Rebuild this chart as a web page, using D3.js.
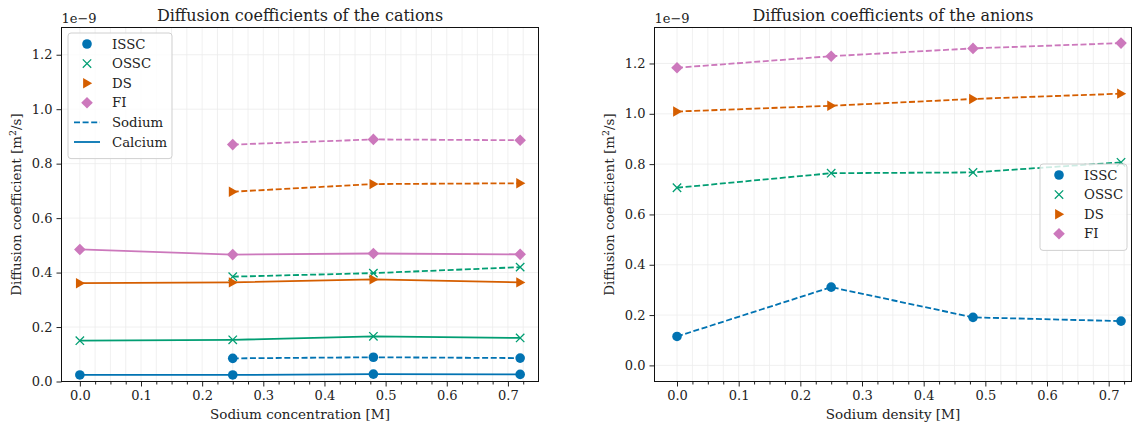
<!DOCTYPE html>
<html>
<head>
<meta charset="utf-8">
<script src="https://cdn.jsdelivr.net/npm/d3@7"></script>
<style>
  html, body { margin: 0; padding: 0; background: #fff; }
  svg { display: block; }
  text { font-family: "DejaVu Serif", serif; fill: #222; }
</style>
</head>
<body>
<svg id="chart" width="1135" height="426"></svg>
<script>
// Sodium concentrations at which the runs were performed [M]
const concentrations = [0, 0.25, 0.48, 0.72];
const sodiumConcentrations = [0.25, 0.48, 0.72];

// Cations, calcium (values in units of 1e-9 m^2/s)
const calciumISSC = [0.024, 0.024, 0.027, 0.026];
const calciumOSSC = [0.150, 0.153, 0.166, 0.160];
const calciumDS   = [0.361, 0.364, 0.375, 0.364];
const calciumFI   = [0.485, 0.466, 0.470, 0.467];

// Cations, sodium
const sodiumISSC = [0.085, 0.089, 0.086];
const sodiumOSSC = [0.385, 0.398, 0.420];
const sodiumDS   = [0.697, 0.725, 0.728];
const sodiumFI   = [0.870, 0.889, 0.886];

// Anions
const anionISSC = [0.115, 0.311, 0.191, 0.176];
const anionOSSC = [0.706, 0.764, 0.767, 0.807];
const anionDS   = [1.009, 1.032, 1.059, 1.080];
const anionFI   = [1.183, 1.229, 1.260, 1.281];

const methods = ["ISSC", "OSSC", "DS", "FI"];
const xTicks = [0, 0.1, 0.2, 0.3, 0.4, 0.5, 0.6, 0.7];
const yTicks = [0, 0.2, 0.4, 0.6, 0.8, 1.0, 1.2];

const colors = { ISSC: "#0173b2", OSSC: "#029e73", DS: "#d55e00", FI: "#cc78bc" };

const svg = d3.select("#chart");

// Marker glyphs in the style of matplotlib's o, x, > and D
function drawMarker(g, method, x, y) {
  const c = colors[method];
  if (method === "ISSC") {
    g.append("circle").attr("cx", x).attr("cy", y).attr("r", 4.8).attr("fill", c);
  } else if (method === "OSSC") {
    const s = 4.2;
    g.append("path")
      .attr("d", `M${x - s},${y - s}L${x + s},${y + s}M${x - s},${y + s}L${x + s},${y - s}`)
      .attr("stroke", c).attr("stroke-width", 1.3).attr("fill", "none");
  } else if (method === "DS") {
    const s = 5.2;
    g.append("path")
      .attr("d", `M${x + s},${y}L${x - s * 0.75},${y - s}L${x - s * 0.75},${y + s}Z`)
      .attr("fill", c);
  } else {
    const s = 5.8;
    g.append("path")
      .attr("d", `M${x},${y - s}L${x + s},${y}L${x},${y + s}L${x - s},${y}Z`)
      .attr("fill", c);
  }
}

function panel(opts) {
  const { left, right, top, bottom, xDomain, yDomain, title, xLabel, series } = opts;
  const x = d3.scaleLinear().domain(xDomain).range([left, right]);
  const y = d3.scaleLinear().domain(yDomain).range([bottom, top]);
  const g = svg.append("g");

  // grid: minor vertical lines every 0.025, horizontal lines at major ticks
  const grid = g.append("g");
  d3.range(0, 0.751, 0.025).filter(v => x(v) < right).forEach(v => {
    grid.append("line").attr("x1", x(v)).attr("x2", x(v)).attr("y1", top).attr("y2", bottom)
      .attr("stroke", "#ececec").attr("stroke-width", 0.8);
  });
  yTicks.forEach(v => {
    grid.append("line").attr("x1", left).attr("x2", right).attr("y1", y(v)).attr("y2", y(v))
      .attr("stroke", "#ececec").attr("stroke-width", 0.8);
  });

  // series lines and markers
  const clip = "clip" + Math.round(left);
  svg.append("clipPath").attr("id", clip).append("rect")
    .attr("x", left).attr("y", top).attr("width", right - left).attr("height", bottom - top);
  const data = g.append("g").attr("clip-path", `url(#${clip})`);
  series.forEach(s => {
    const line = d3.line().x(d => x(d[0])).y(d => y(d[1]));
    const pts = s.xs.map((xv, i) => [xv, s.values[i]]);
    data.append("path").datum(pts).attr("d", line)
      .attr("fill", "none").attr("stroke", colors[s.method]).attr("stroke-width", 1.8)
      .attr("stroke-dasharray", s.dashed ? "6,2.6" : null);
    pts.forEach(p => drawMarker(data, s.method, x(p[0]), y(p[1])));
  });

  // axes
  const minorTicks = d3.range(0, 0.751, 0.025)
    .filter(v => Math.abs(v * 10 - Math.round(v * 10)) > 1e-6 && x(v) < right);
  const xAxis = g.append("g").attr("transform", `translate(0,${bottom})`)
    .call(d3.axisBottom(x).tickValues(xTicks).tickFormat(d3.format(".1f")).tickSize(5).tickPadding(4));
  g.append("g").attr("transform", `translate(0,${bottom})`)
    .call(d3.axisBottom(x).tickValues(minorTicks).tickFormat("").tickSize(3))
    .call(a => a.select(".domain").remove());
  const yAxis = g.append("g").attr("transform", `translate(${left},0)`)
    .call(d3.axisLeft(y).tickValues(yTicks).tickFormat(d3.format(".1f")).tickSize(5).tickPadding(4));
  [xAxis, yAxis].forEach(a => {
    a.selectAll("text").attr("font-size", 13).attr("font-family", "DejaVu Serif").attr("fill", "#222");
    a.select(".domain").remove();
  });
  g.selectAll(".tick line").attr("stroke", "#222");

  // frame
  g.append("rect").attr("x", left).attr("y", top).attr("width", right - left).attr("height", bottom - top)
    .attr("fill", "none").attr("stroke", "#111").attr("stroke-width", 1);

  // texts
  g.append("text").attr("x", (left + right) / 2).attr("y", top - 7).attr("text-anchor", "middle")
    .attr("font-size", 16).text(title);
  g.append("text").attr("x", left).attr("y", top - 5).attr("font-size", 13).text("1e\u22129");
  g.append("text").attr("x", (left + right) / 2).attr("y", bottom + 37).attr("text-anchor", "middle")
    .attr("font-size", 13.5).text(xLabel);
  const yl = g.append("text")
    .attr("transform", `translate(${left - 41},${(top + bottom) / 2}) rotate(-90)`)
    .attr("text-anchor", "middle").attr("font-size", 13.5);
  yl.append("tspan").text("Diffusion coefficient [m");
  yl.append("tspan").attr("dy", -5).attr("font-size", 9.5).text("2");
  yl.append("tspan").attr("dy", 5).text("/s]");

  return { x, y, g };
}

function legend(g, lx, ly, w, entries) {
  const rowH = 19.6;
  const h = entries.length * rowH + 8;
  g.append("rect").attr("x", lx).attr("y", ly).attr("width", w).attr("height", h).attr("rx", 3)
    .attr("fill", "rgba(255,255,255,0.8)").attr("stroke", "#d0d0d0").attr("stroke-width", 1);
  entries.forEach((e, i) => {
    const cy = ly + 11 + i * rowH;
    const mx = lx + 19;
    if (e.type === "marker") {
      drawMarker(g, e.method, mx, cy);
    } else {
      g.append("line").attr("x1", mx - 13).attr("x2", mx + 13).attr("y1", cy).attr("y2", cy)
        .attr("stroke", colors.ISSC).attr("stroke-width", 1.8)
        .attr("stroke-dasharray", e.dashed ? "6,2.6" : null);
    }
    g.append("text").attr("x", lx + 44).attr("y", cy + 4.6).attr("font-size", 13.3).text(e.label);
  });
}

// Cations panel
const cationSeries = [];
const calciumSets = [calciumISSC, calciumOSSC, calciumDS, calciumFI];
const sodiumSets = [sodiumISSC, sodiumOSSC, sodiumDS, sodiumFI];
methods.forEach((m, i) => {
  cationSeries.push({ method: m, xs: sodiumConcentrations, values: sodiumSets[i], dashed: true });
  cationSeries.push({ method: m, xs: concentrations, values: calciumSets[i], dashed: false });
});
const p1 = panel({
  left: 61.5, right: 538.5, top: 27.5, bottom: 381.5, xDomain: [-0.03, 0.75], yDomain: [0, 1.3],
  title: "Diffusion coefficients of the cations", xLabel: "Sodium concentration [M]",
  series: cationSeries
});
legend(p1.g, 68, 33, 104, [
  ...methods.map(m => ({ type: "marker", method: m, label: m })),
  { type: "line", dashed: true, label: "Sodium" },
  { type: "line", dashed: false, label: "Calcium" }
]);

// Anions panel
const anionSets = [anionISSC, anionOSSC, anionDS, anionFI];
const p2 = panel({
  left: 654.5, right: 1131.5, top: 27.5, bottom: 381.5, xDomain: [-0.0365, 0.737], yDomain: [-0.064, 1.343],
  title: "Diffusion coefficients of the anions", xLabel: "Sodium density [M]",
  series: methods.map((m, i) => ({ method: m, xs: concentrations, values: anionSets[i], dashed: true }))
});
legend(p2.g, 1040, 164, 87, methods.map(m => ({ type: "marker", method: m, label: m })));
</script>
</body>
</html>
